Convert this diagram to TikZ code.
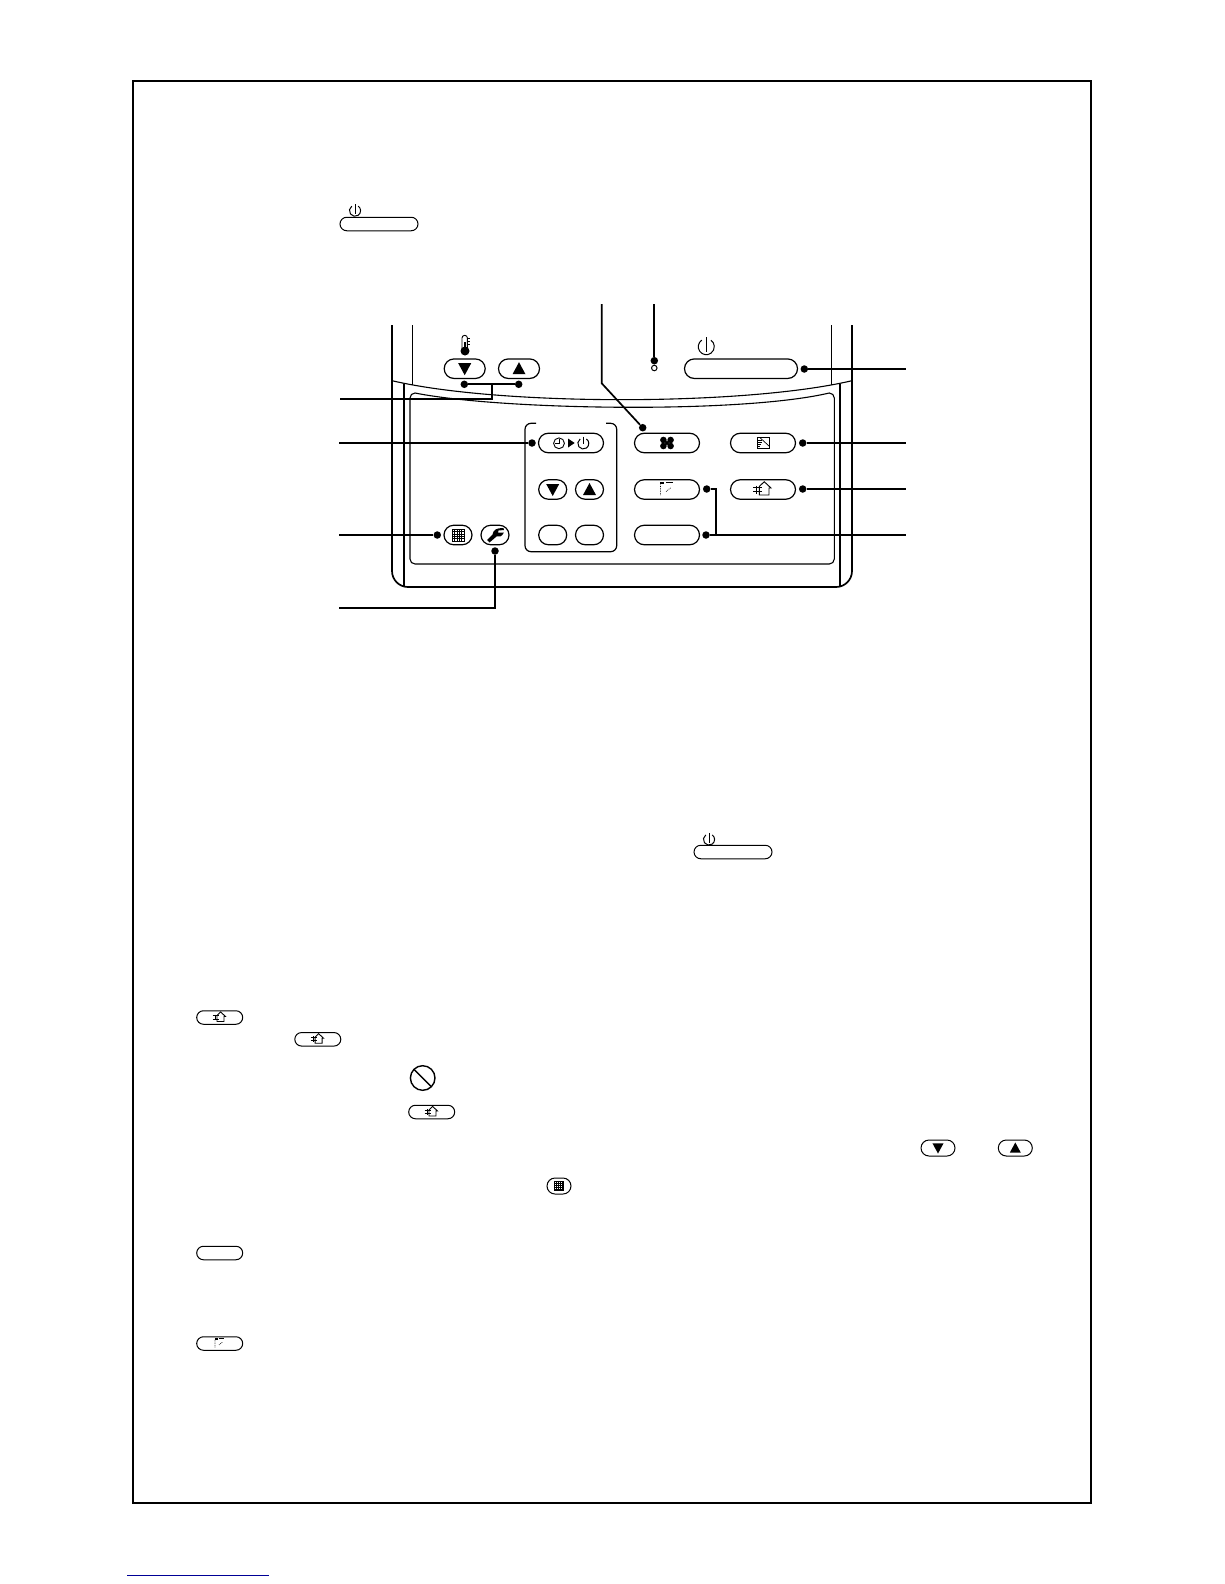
\documentclass[tikz,border=0pt]{standalone}
\usetikzlibrary{shapes.misc}
\definecolor{linknavy}{RGB}{0,0,150}
\tikzset{
  x=1pt,y=-1pt,
  btn/.style={draw=black,line width=1.2pt,rounded rectangle,inner sep=0pt,fill=white,minimum width=#1},
  big/.style={minimum height=19.5pt},
  mini/.style={minimum height=13.5pt},
  dot/.style={circle,fill=black,draw=none,inner sep=0pt,minimum size=7.5pt},
  conn/.style={line width=1.7pt,line join=miter},
  body/.style={line width=1.7pt},
  thin body/.style={line width=1pt},
  frame box/.style={line width=2.2pt},
  trid/.pic={\fill (-6.5,-5.5)--(6.5,-5.5)--(0,6.5)--cycle;},
  triu/.pic={\fill (-6.5,5.5)--(6.5,5.5)--(0,-6.5)--cycle;},
  powersym/.pic={\draw[line width=1pt] (235:8) arc[start angle=235,end angle=-55,radius=8];
     \draw[line width=1pt] (0,-9.5)--(0,5);},
  fanicon/.pic={
    \foreach \sx/\sy in {-1/-1,1/-1,-1/1,1/1}{\fill (\sx*3.6,\sy*3) circle (3.3);}
    \fill (0,0) circle (2);},
  filtericon/.pic={\draw[line width=.9pt] (-6,-5.3) rectangle (6,5.3);
    \draw[line width=.7pt] (-3,-5.3)--(6,3);
    \foreach \y/\e in {-3/-1.5,-1/-1,1/-2,3/-3}{\draw[line width=.6pt] (-6,\y)--(\e,\y);}},
  houseicon/.pic={\draw[line width=.9pt] (-3.7,-3)--(1.2,-7.8)--(8,-1.5)--(6,-1.5)--(6,5.5)--(-3.7,5.5)--cycle;
    \draw[line width=.9pt] (-9.7,-2.2)--(-1,-2.2) (-9.7,2.2)--(-1,2.2) (-6.3,-4)--(-6.3,4);},
  loovericon/.pic={\fill (-7,-7.8) rectangle (-3,-5.5);
    \draw[line width=.7pt] (-1,-7.3)--(6.3,-7.3);
    \draw[line width=.7pt,densely dotted] (-6.5,-5)--(-6.5,5.5) (-1,2)--(4,-2);},
  gridicon/.pic={\draw[line width=.8pt] (-6,-6) rectangle (6,6);
    \foreach \d in {-3.6,-1.2,1.2,3.6}{\draw[line width=.3pt] (\d,-6)--(\d,6);}
    \foreach \d in {-3.6,-1.2,1.2,3.6}{\draw[line width=.3pt] (-6,\d)--(6,\d);}},
  wrenchicon/.pic={\fill (-8,5)--(-2.5,-0.5) .. controls (-2,-5) and (2,-7.5) .. (8.5,-6.8)--(9,-5)
     --(3.5,-4.5)--(3,-2.5)--(8.8,-2.3) .. controls (7,1.5) and (4,2.5) .. (1.5,1.5)--(-5.5,7.5)--cycle;},
  thermo/.pic={\draw[line width=.9pt] (-2.7,-7) arc[start angle=180,end angle=360,radius=2.7]--(2.7,4) (-2.7,-7)--(-2.7,4);
    \fill (0.3,6) circle (4.5);\fill (-1,-3) rectangle (1.4,5);
    \foreach \y in {-6.7,-3.7,-0.3}{\draw[line width=.6pt] (2.7,\y)--(5,\y);}},
  timericon/.pic={\draw[line width=.9pt] (-12,0.3) circle (5.4);
    \draw[line width=.8pt] (-12,-4.5)--(-12,0.5)--(-16,0.5);
    \fill (-3,-4.5)--(3.7,0)--(-3,4.5)--cycle;
    \draw[line width=1pt] ([shift={(235:5.5)}]12.3,0.5) arc[start angle=235,end angle=-55,radius=5.5];
    \draw[line width=1pt] (12.3,-6.5)--(12.3,1);},
  nosign/.pic={\draw[line width=1.4pt] (0,0) circle (12.3); \draw[line width=1.4pt] (-8.7,-8.7)--(8.7,8.7);}
}
\begin{document}
\begin{tikzpicture}
\useasboundingbox (0,0) rectangle (1224,1584);
\fill[white] (0,0) rectangle (1224,1584);

% outer frame
\draw[frame box] (133,81) rectangle (1091,1503);
\draw[line width=1pt,linknavy] (127,1575)--(269,1575);

% remote control body
\draw[body] (392,325)--(392,571) arc[start angle=180,end angle=90,radius=16]--(836,587)
   arc[start angle=90,end angle=0,radius=16]--(852,325);
\draw[body] (404,384)--(404,587) (840,384)--(840,587);
\draw[thin body] (412.3,325)--(412.3,385) (831.3,325)--(831.3,385);
\draw[line width=1.1pt] (392,380.7) .. controls (500,406) and (744,406) .. (852,380.7);
\draw[line width=1.1pt] (410,398) arc[start angle=180,end angle=270,radius=5]
   .. controls (500,410) and (740,414) .. (829.3,393)
   arc[start angle=270,end angle=360,radius=5]--(834.3,559)
   arc[start angle=0,end angle=90,radius=5]--(415,564)
   arc[start angle=90,end angle=180,radius=5]--cycle;
% timer bracket
\draw[line width=1.2pt] (536,423.3)--(531,423.3) arc[start angle=270,end angle=180,radius=6]
   --(525,545.7) arc[start angle=180,end angle=90,radius=6]--(610.7,551.7)
   arc[start angle=90,end angle=0,radius=6]--(616.7,429.3)
   arc[start angle=0,end angle=-90,radius=6]--(606,423.3);

% main buttons
\node[btn=41pt,big] (tempdown) at (464.7,368.7) {};
\node[btn=41pt,big] (tempup) at (519,368.7) {};
\node[btn=113pt,big] (power) at (741,368.7) {};
\node[btn=65pt,big] (timer) at (571,443) {};
\node[btn=65pt,big] (fan) at (667,443) {};
\node[btn=65pt,big] (filter) at (763,443) {};
\node[btn=28pt,big] (tdown) at (552.7,489.5) {};
\node[btn=28pt,big] (tup) at (589.5,489.5) {};
\node[btn=65pt,big] (louver) at (667,489.5) {};
\node[btn=65pt,big] (house) at (763,489.5) {};
\node[btn=28pt,big] (blanka) at (552.7,535) {};
\node[btn=28pt,big] (blankb) at (589.5,535) {};
\node[btn=65pt,big] (blankc) at (667,535) {};
\node[btn=28pt,big] (grid) at (458,535) {};
\node[btn=28pt,big] (wrench) at (495,535) {};

\pic at (tempdown) {trid};
\pic at (tempup) {triu};
\pic at (tdown) {trid};
\pic at (tup) {triu};
\pic at (fan) {fanicon};
\pic at (filter) {filtericon};
\pic at (louver) {loovericon};
\pic at (house) {houseicon};
\pic at (timer) {timericon};
\pic at (grid) {gridicon};
\pic at (wrench) {wrenchicon};
\pic at (464.7,345) {thermo};
\pic at (706.3,346.7) {powersym};

% dots
\node[dot] (dTd) at (464.3,384.3) {};
\node[dot] (dTu) at (518.7,384.3) {};
\node[dot] (dTimer) at (532,443) {};
\node[dot] (dGrid) at (437.3,535) {};
\node[dot] (dWrench) at (495,551) {};
\node[dot] (dFan) at (642.7,427.7) {};
\node[dot] (dLamp) at (654.3,360.7) {};
\node[dot] (dPower) at (804.3,369) {};
\node[dot] (dFilter) at (802.7,443) {};
\node[dot] (dHouse) at (802.7,489) {};
\node[dot] (dLouver) at (706.7,489) {};
\node[dot] (dBlank) at (706,535) {};
\node[circle,draw=black,line width=1pt,inner sep=0pt,minimum size=5.5pt,fill=white] (lamp) at (654.3,368) {};

% free connector ends
\coordinate (eTemp) at (340,399.3);
\coordinate (eTimer) at (339,443);
\coordinate (eGrid) at (339,535);
\coordinate (eWrench) at (339,607.7);
\coordinate (eFan) at (601.7,304);
\coordinate (kFan) at (601.7,383.3);
\coordinate (eLamp) at (654.3,304);
\coordinate (ePower) at (906,369);
\coordinate (eFilter) at (906,443);
\coordinate (eHouse) at (906,489);
\coordinate (eBlank) at (906,535);
\coordinate (kTemp) at (492,384.3);

% connectors
\draw[conn] (dTd)--(dTu);
\draw[conn] (kTemp)--(492,399.3)--(eTemp);
\draw[conn] (dTimer)--(eTimer);
\draw[conn] (dGrid)--(eGrid);
\draw[conn] (dWrench)--(495,607.7)--(eWrench);
\draw[conn] (eFan)--(kFan)--(dFan);
\draw[conn] (eLamp)--(dLamp);
\draw[conn] (dPower)--(ePower);
\draw[conn] (dFilter)--(eFilter);
\draw[conn] (dHouse)--(eHouse);
\draw[conn] (dLouver)--(716,489)--(716,535);
\draw[conn] (dBlank)--(eBlank);

% small inline buttons in the text
\tikzset{mb/.style={btn=#1,mini,line width=1pt}}
\node[mb=78pt] (pa) at (379,224) {};
\pic[scale=.7] at (355,210.7) {powersym};
\node[mb=78pt] (pb) at (733,852) {};
\pic[scale=.7] at (709,839.5) {powersym};
\node[mb=46pt] (ha) at (219.7,1017.5) {};
\pic[scale=.72] at (ha) {houseicon};
\node[mb=46pt] (hb) at (317.8,1039.3) {};
\pic[scale=.72] at (hb) {houseicon};
\pic at (422.7,1078) {nosign};
\node[mb=46pt] (hc) at (431.7,1112) {};
\pic[scale=.72] at (hc) {houseicon};
\node[btn=34pt,minimum height=16pt,line width=1pt] (sd) at (938,1148) {};
\pic[scale=.85] at (sd) {trid};
\node[btn=34pt,minimum height=16pt,line width=1pt] (su) at (1015.3,1148) {};
\pic[scale=.85] at (su) {triu};
\node[btn=24pt,minimum height=16pt,line width=1pt] (sg) at (559,1186) {};
\pic[scale=.8] at (sg) {gridicon};
\node[mb=46pt] (sb) at (219.7,1253) {};
\node[mb=46pt] (sl) at (219.7,1343.5) {};
\pic[scale=.72] at (sl) {loovericon};
\end{tikzpicture}
\end{document}
